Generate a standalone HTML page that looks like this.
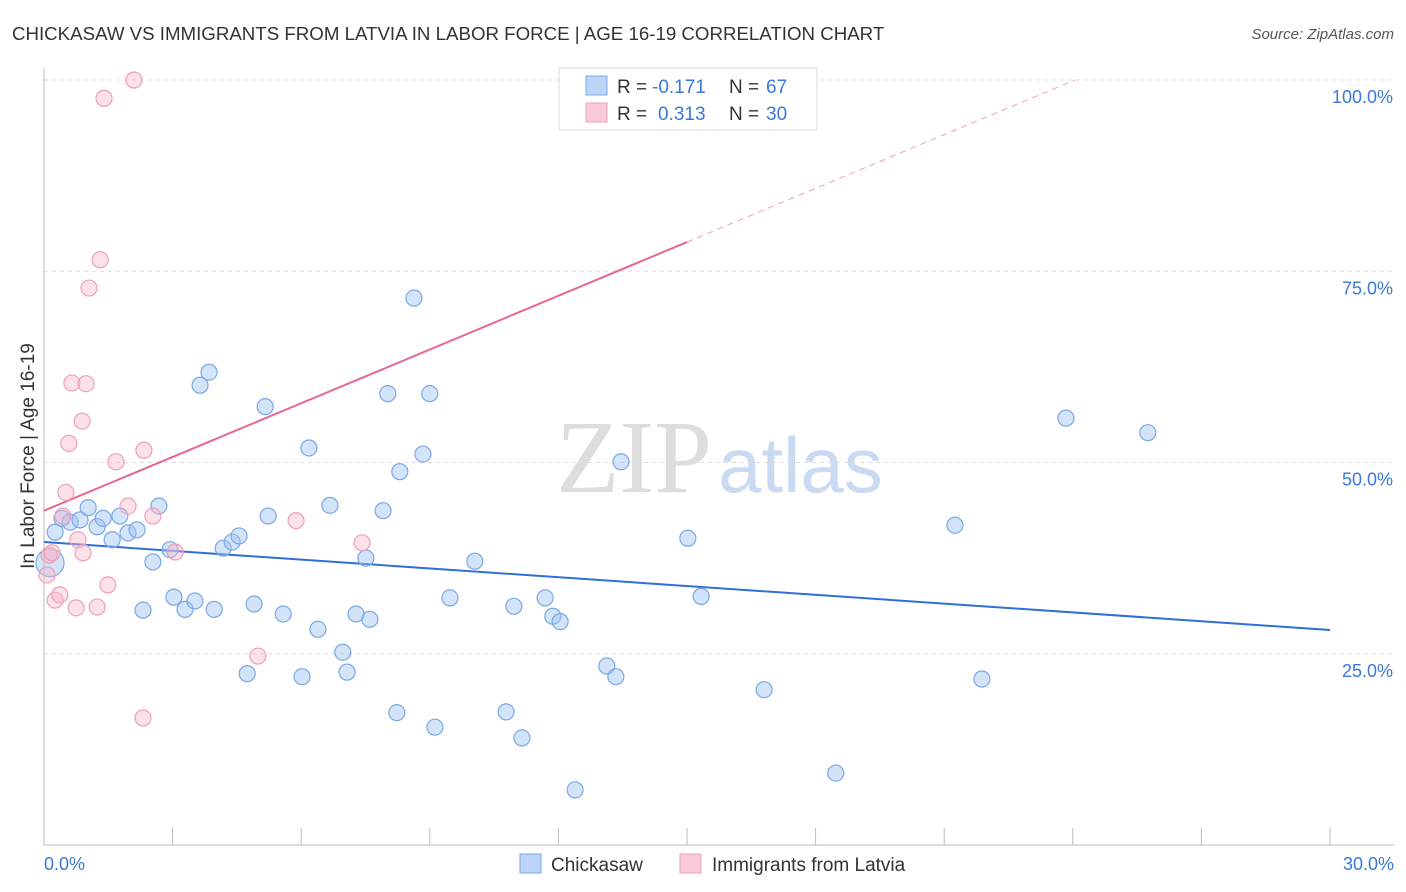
<!DOCTYPE html>
<html><head><meta charset="utf-8"><style>
body{margin:0;background:#fff;font-family:"Liberation Sans",sans-serif;}
svg{display:block}
</style></head><body>
<svg id="chart" width="1406" height="892">
<text x="12" y="40" font-size="18.7" fill="#333">CHICKASAW VS IMMIGRANTS FROM LATVIA IN LABOR FORCE | AGE 16-19 CORRELATION CHART</text>
<text x="1394" y="39" font-size="15" fill="#555" font-style="italic" text-anchor="end">Source: ZipAtlas.com</text>
<text x="712" y="492" font-size="104" fill="#ddd" font-family="Liberation Serif,serif" text-anchor="end">ZIP</text>
<text x="718" y="492" font-size="78" fill="#c9daf2">atlas</text>
<g id="grid"></g><g id="axes"></g><g id="lines"></g><g id="points"></g>
<text transform="translate(34,456) rotate(-90)" font-size="19" fill="#333" text-anchor="middle">In Labor Force | Age 16-19</text>
<g>
<rect x="559" y="68" width="258" height="62" fill="#fff" stroke="#ddd"/>
<rect x="586" y="76" width="21" height="19" fill="#bcd4f5" stroke="#7aa8e6"/>
<rect x="586" y="103" width="21" height="19" fill="#fbcad8" stroke="#eea0b8"/>
<text x="617" y="93" font-size="19" fill="#333">R =</text>
<text x="652" y="93" font-size="19" fill="#3b78d8">-0.171</text>
<text x="729" y="93" font-size="19" fill="#333">N =</text>
<text x="766" y="93" font-size="19" fill="#3b78d8">67</text>
<text x="617" y="120" font-size="19" fill="#333">R =</text>
<text x="658" y="120" font-size="19" fill="#3b78d8">0.313</text>
<text x="729" y="120" font-size="19" fill="#333">N =</text>
<text x="766" y="120" font-size="19" fill="#3b78d8">30</text>
</g>
<g>
<rect x="520" y="854" width="21" height="19" fill="#bcd4f5" stroke="#7aa8e6"/>
<text x="551" y="871" font-size="19" fill="#333">Chickasaw</text>
<rect x="680" y="854" width="21" height="19" fill="#fbcad8" stroke="#eea0b8"/>
<text x="712" y="871" font-size="19" fill="#333">Immigrants from Latvia</text>
</g>
</svg>
<script>
const blueX=[0.14,0.26,0.42,0.61,0.84,1.03,1.24,1.38,1.59,1.77,1.96,2.17,2.31,2.54,2.68,2.94,3.03,3.29,3.52,3.64,3.85,3.97,4.18,4.39,4.55,4.74,4.90,5.16,5.23,5.58,6.02,6.18,6.39,6.67,6.97,7.07,7.28,7.51,7.60,7.91,8.02,8.23,8.30,8.63,8.84,9.00,9.12,9.47,10.05,10.78,10.96,11.15,11.69,11.87,12.04,12.39,13.13,13.34,13.46,15.02,15.33,16.80,18.47,21.25,21.88,23.84,25.75];
const blueY=[36.9,40.9,42.7,42.2,42.5,44.1,41.6,42.7,39.9,43.0,40.8,41.2,30.7,37.0,44.3,38.6,32.4,30.8,31.9,60.1,61.8,30.8,38.8,39.6,40.4,22.4,31.5,57.3,43.0,30.2,22.0,51.9,28.2,44.4,25.2,22.6,30.2,37.5,29.5,43.7,59.0,17.3,48.8,71.5,51.1,59.0,15.4,32.3,37.1,17.4,31.2,14.0,32.3,29.9,29.2,7.2,23.4,22.0,50.1,40.1,32.5,20.3,9.4,41.8,21.7,55.8,53.9];
const pinkX=[0.07,0.12,0.19,0.26,0.37,0.44,0.51,0.58,0.65,0.75,0.79,0.89,0.91,0.98,1.05,1.24,1.31,1.40,1.49,1.68,1.96,2.10,2.31,2.33,2.54,3.06,4.99,5.88,7.42,14.35];
const pinkY=[35.3,37.9,38.2,32.0,32.7,43.0,46.1,52.5,60.4,31.0,39.9,55.4,38.2,60.3,72.8,31.1,76.5,97.6,34.0,50.1,44.3,100,16.6,51.6,43.0,38.3,24.7,42.4,39.5,100];
const blueTrend=[39.6,28.1];
const pinkTrend=[43.7,100];
const yTicks=[25,50,75,100];
const xTickLabels=["0.0%","30.0%"];
const NS="http://www.w3.org/2000/svg";
const sx=v=>44+v/30*1286, sy=v=>845-v*7.65;
function mk(tag,attrs,parent){const e=document.createElementNS(NS,tag);for(const k in attrs)e.setAttribute(k,attrs[k]);document.getElementById(parent).appendChild(e);return e;}
yTicks.forEach(t=>{
 const l=mk('line',{x1:44,x2:1394,y1:sy(t),y2:sy(t),stroke:'#ddd','stroke-dasharray':'4,4'},'grid');
 
 
 const tx=mk('text',{x:1393,y:sy(t)+23,'font-size':18,fill:'#3b78d8','text-anchor':'end'},'grid');
 tx.textContent=t.toFixed(1)+'%';
 
 
});
mk('line',{x1:44,x2:44,y1:68,y2:845,stroke:'#bbb'},'axes');
mk('line',{x1:44,x2:1394,y1:845,y2:845,stroke:'#bbb'},'axes');
for(let i=1;i<=10;i++){const t=mk('line',{x1:sx(i*3),x2:sx(i*3),y1:828,y2:845,stroke:'#bbb'},'axes');
 
 }
const xl0=mk('text',{x:44,y:870,'font-size':18,fill:'#3b78d8'},'axes');xl0.textContent=xTickLabels[0];


const xl1=mk('text',{x:1394,y:870,'font-size':18,fill:'#3b78d8','text-anchor':'end'},'axes');xl1.textContent=xTickLabels[1];


const bl=mk('line',{x1:sx(0),y1:sy(blueTrend[0]),x2:sx(30),y2:sy(blueTrend[1]),stroke:'#2f6fd6','stroke-width':2},'lines');


const pEnd=24.05, pSlope=(pinkTrend[1]-pinkTrend[0])/pEnd;
const pl=mk('line',{x1:sx(0),y1:sy(pinkTrend[0]),x2:sx(15),y2:sy(pinkTrend[0]+pSlope*15),stroke:'#e8668f','stroke-width':2},'lines');


const pd=mk('line',{x1:sx(15),y1:sy(pinkTrend[0]+pSlope*15),x2:sx(pEnd),y2:sy(pinkTrend[1]),stroke:'#eaa0b8','stroke-width':1,'stroke-dasharray':'6,5'},'lines');


blueX.forEach((x,i)=>{const c=mk('circle',{cx:sx(x),cy:sy(blueY[i]),r:i===0?14:8,fill:'rgba(160,196,240,0.45)',stroke:'#7aa8e6','stroke-width':1.2},'points');
 
 });
pinkX.forEach((x,i)=>{const c=mk('circle',{cx:sx(x),cy:sy(pinkY[i]),r:8,fill:'rgba(248,180,200,0.4)',stroke:'#eea0b8','stroke-width':1.2},'points');
 
 });
</script>
</body></html>
